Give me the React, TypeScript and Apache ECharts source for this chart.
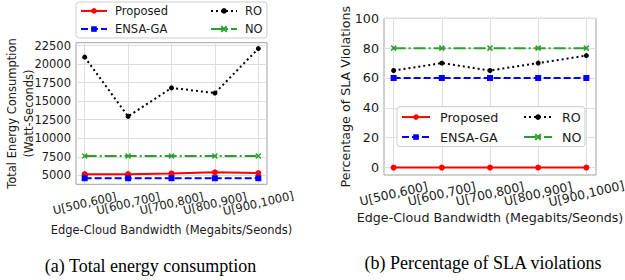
import React, { useEffect, useRef } from "react";
import * as echarts from "echarts";

const categories = ["U[500,600]", "U[600,700]", "U[700,800]", "U[800,900]", "U[900,1000]"];
const seriesNames = ["Proposed", "ENSA-GA", "RO", "NO"];

const energyProposed = [5150, 5150, 5250, 5400, 5300];
const energyEnsa = [4600, 4600, 4600, 4600, 4600];
const energyRo = [20950, 12950, 16800, 16100, 22100];
const energyNo = [7600, 7600, 7600, 7600, 7600];

const slaProposed = [0, 0, 0, 0, 0];
const slaEnsa = [60, 60, 60, 60, 60];
const slaRo = [65, 70, 65, 70, 75];
const slaNo = [80, 80, 80, 80, 80];

const energyTicks = [5000, 7500, 10000, 12500, 15000, 17500, 20000, 22500];
const slaTicks = [0, 20, 40, 60, 80, 100];
const xTicks = [0, 1, 2, 3, 4];
const xLabelsEven = [0, 2, 4];
const xLabelsOdd = [1, 3];

const RED = "#ff0000";
const BLUE = "#0000ff";
const BLACK = "#000000";
const GREEN = "#2ca02c";
const X_SYMBOL = "path://M1,1L9,9M9,1L1,9";

const styles: Record<string, any> = {
  Proposed: { color: RED, lineType: "solid", symbol: "circle", size: 6 },
  "ENSA-GA": { color: BLUE, lineType: [7, 3], symbol: "rect", size: 6 },
  RO: { color: BLACK, lineType: [2, 3], symbol: "circle", size: 5 },
  NO: { color: GREEN, lineType: [12, 3, 2, 3], symbol: X_SYMBOL, size: 5 },
};

function makeSeries(name: string, values: number[], gi: number) {
  const s = styles[name];
  return {
    type: "line",
    name,
    xAxisIndex: gi * 2,
    yAxisIndex: gi,
    data: values.map((v, i) => [i, v]),
    symbol: s.symbol,
    symbolSize: s.size,
    showSymbol: true,
    lineStyle: { color: s.color, width: 2, type: s.lineType, cap: "butt" },
    itemStyle: { color: s.color, borderColor: s.color, borderWidth: s.symbol === X_SYMBOL ? 1.5 : 0 },
    emphasis: { disabled: true },
    z: 2,
  };
}

const TEXT = "#1a1a1a";
const FONT = "DejaVu Sans";

function xAxis(gi: number, fs: number, lfs: number, nameGap: number, margin: number, labels: number[], main: boolean) {
  return {
    type: "value",
    gridIndex: gi,
    position: "bottom",
    offset: 0,
    min: -0.2,
    max: 4.2,
    name: main ? "Edge-Cloud Bandwidth (Megabits/Seonds)" : "",
    nameLocation: "middle",
    nameGap,
    nameMoveOverlap: false,
    nameTextStyle: { fontFamily: FONT, fontSize: fs, color: TEXT, lineHeight: fs + 3 },
    axisLine: { show: false },
    axisTick: { show: false, customValues: xTicks },
    splitLine: { show: main, lineStyle: { color: "#dedede", width: 1 } },
    axisLabel: {
      customValues: labels,
      formatter: (v: number) => categories[Math.round(v)] ?? "",
      rotate: 13,
      align: "center",
      verticalAlign: "middle",
      margin,
      showMinLabel: true,
      showMaxLabel: true,
      hideOverlap: false,
      fontFamily: FONT,
      fontSize: lfs,
      color: TEXT,
    },
  };
}

function yAxis(gi: number, min: number, max: number, ticks: number[], fs: number, name: string, nameGap: number, lh: number) {
  return {
    type: "value",
    gridIndex: gi,
    min,
    max,
    name,
    nameLocation: "middle",
    nameGap,
    nameMoveOverlap: false,
    nameTextStyle: { fontFamily: FONT, fontSize: fs, color: TEXT, lineHeight: lh },
    axisLine: { show: false },
    axisTick: { show: false, customValues: ticks },
    splitLine: { show: true, lineStyle: { color: "#dedede", width: 1 } },
    axisLabel: {
      customValues: ticks,
      formatter: (v: number) => String(v),
      showMinLabel: true,
      showMaxLabel: true,
      margin: 5,
      fontFamily: FONT,
      fontSize: fs,
      color: TEXT,
    },
  };
}

function legend(names: string[], left: number, top: number, fs: number, iw: number, pad: number, gap: number) {
  return {
    data: names,
    orient: "vertical",
    left,
    top,
    padding: 0,
    itemGap: gap,
    itemWidth: iw,
    itemHeight: 7,
    selectedMode: false,
    textStyle: { fontFamily: FONT, fontSize: fs, color: TEXT, lineHeight: fs + 3, padding: [0, 0, 0, pad] },
  };
}

export default function App() {
  const ref = useRef<HTMLDivElement>(null);
  useEffect(() => {
    if (!ref.current) return;
    const chart = echarts.init(ref.current, null, { renderer: "svg" });
    const option: any = {
      animation: false,
      backgroundColor: "#ffffff",
      grid: [
        { left: 76, top: 42.7, width: 191, height: 141.6, show: true, borderColor: "#a0a0a0", borderWidth: 1, outerBoundsMode: "none", containLabel: false },
        { left: 384, top: 18.3, width: 212, height: 156.7, show: true, borderColor: "#a0a0a0", borderWidth: 1, outerBoundsMode: "none", containLabel: false },
      ],
      xAxis: [
        xAxis(0, 11.5, 11.5, 38.7, 19, xLabelsEven, true),
        xAxis(0, 11.5, 11.5, 38.7, 19, xLabelsOdd, false),
        xAxis(1, 12.7, 12.3, 34.8, 19, xLabelsEven, true),
        xAxis(1, 12.7, 12.3, 34.8, 19, xLabelsOdd, false),
      ],
      yAxis: [
        yAxis(0, 3780, 22900, energyTicks, 11.5, "Total Energy Consumption\n(Watt-Seconds)", 38.5, 17),
        yAxis(1, -5, 100, slaTicks, 12.7, "Percentage of SLA Violations", 31, 15),
      ],
      legend: [
        legend(["Proposed", "ENSA-GA"], 80, 3.7, 11.5, 26, 3, 3.6),
        legend(["RO", "NO"], 210, 3.7, 11.5, 26, 3, 3.6),
        legend(["Proposed", "ENSA-GA"], 401, 109.2, 12.7, 28, 5, 4.3),
        legend(["RO", "NO"], 523, 109.2, 12.7, 28, 5, 4.3),
      ],
      graphic: [
        { type: "rect", z: 3, shape: { x: 76, y: 2, width: 191, height: 36, r: 3 }, style: { fill: "rgba(255,255,255,0.85)", stroke: "#cccccc", lineWidth: 1 } },
        { type: "rect", z: 3, shape: { x: 397, y: 106.7, width: 188, height: 40, r: 3 }, style: { fill: "rgba(255,255,255,0.85)", stroke: "#cccccc", lineWidth: 1 } },
        { type: "text", x: 150.5, y: 266, style: { text: "(a) Total energy consumption", fontFamily: "Liberation Serif", fontSize: 18, fill: "#000", align: "center", verticalAlign: "middle" } },
        { type: "text", x: 483, y: 263.3, style: { text: "(b) Percentage of SLA violations", fontFamily: "Liberation Serif", fontSize: 18, fill: "#000", align: "center", verticalAlign: "middle" } },
      ],
      series: [
        makeSeries(seriesNames[0], energyProposed, 0),
        makeSeries(seriesNames[1], energyEnsa, 0),
        makeSeries(seriesNames[2], energyRo, 0),
        makeSeries(seriesNames[3], energyNo, 0),
        makeSeries(seriesNames[0], slaProposed, 1),
        makeSeries(seriesNames[1], slaEnsa, 1),
        makeSeries(seriesNames[2], slaRo, 1),
        makeSeries(seriesNames[3], slaNo, 1),
      ],
    };
    chart.setOption(option);
    return () => chart.dispose();
  }, []);
  return <div ref={ref} style={{ position: "fixed", left: 0, top: 0, width: 625, height: 280 }} />;
}
